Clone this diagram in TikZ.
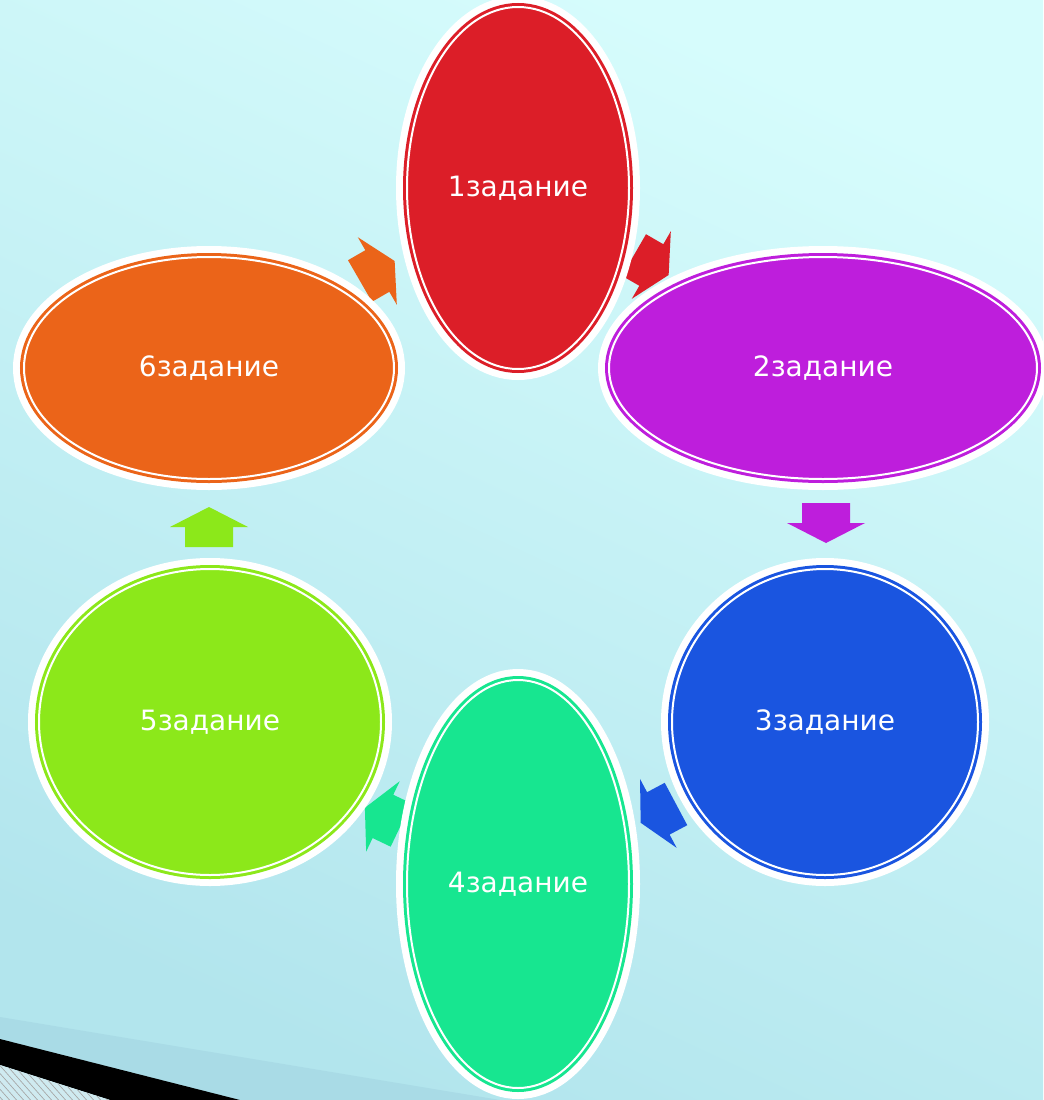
\documentclass[tikz,border=0pt]{standalone}
\usepackage{fontspec}
\setmainfont{DejaVu Sans}
\usetikzlibrary{shapes.geometric}

\definecolor{bgtop}{HTML}{D6FCFC}
\definecolor{bgbot}{HTML}{B2E5ED}
\definecolor{bandcol}{HTML}{A9DBE6}
\definecolor{hatchcol}{HTML}{CFEAF0}
\definecolor{redtask}{HTML}{DC1E28}
\definecolor{magtask}{HTML}{BE1EDC}
\definecolor{bluetask}{HTML}{1A55E0}
\definecolor{greentask}{HTML}{17E690}
\definecolor{limetask}{HTML}{8CE81A}
\definecolor{orangetask}{HTML}{EB6419}

\tikzset{
  task/.style={ellipse, inner sep=0pt, draw=#1, fill=#1, text=white,
    font=\fontsize{21}{25}\selectfont, line width=2.25pt,
    double=white, double distance=1.5pt,
    preaction={draw=white, line width=16.5pt}},
  blockarrow/.pic={
    \fill (0,-24) -- (20,-24) -- (20,-39) -- (40,0) -- (20,39)
      -- (20,24) -- (0,24) -- cycle;}
}

\begin{document}
\begin{tikzpicture}[x=0.75pt, y=0.75pt]
  \useasboundingbox (0,0) rectangle (1043,-1100);
  % background
  \shade[top color=bgtop, bottom color=bgbot, shading angle=-25]
    (0,0) rectangle (1043,-1100);
  \fill[bandcol] (0,-1017) -- (500,-1100) -- (240,-1100) -- (0,-1039) -- cycle;
  \fill[black] (0,-1039) -- (240,-1100) -- (110,-1100) -- (0,-1065) -- cycle;
  \begin{scope}
    \clip (0,-1065) -- (110,-1100) -- (0,-1100) -- cycle;
    \fill[hatchcol] (0,-1065) rectangle (110,-1100);
    \foreach \i in {0,7,...,140}
      \draw[gray!70, line width=0.5pt] (\i-40,-1060) -- (\i,-1105);
  \end{scope}

  % arrows between the tasks
  \pic[redtask, rotate=-30] at (634,-255) {blockarrow};
  \pic[magtask, rotate=-90] at (826,-503) {blockarrow};
  \pic[bluetask, rotate=208] at (676,-804) {blockarrow};
  \pic[greentask, rotate=154.5] at (401,-825) {blockarrow};
  \pic[limetask, rotate=90] at (209,-547) {blockarrow};
  \pic[orangetask, rotate=30] at (360,-281) {blockarrow};

  % tasks
  \node[task=orangetask, minimum width=370*0.75pt, minimum height=222*0.75pt]
    (t6) at (209,-368) {6задание};
  \node[task=limetask, minimum width=342*0.75pt, minimum height=306*0.75pt]
    (t5) at (210,-722) {5задание};
  \node[task=greentask, minimum width=222*0.75pt, minimum height=408*0.75pt]
    (t4) at (518,-884) {4задание};
  \node[task=bluetask, minimum width=306*0.75pt, minimum height=306*0.75pt]
    (t3) at (825,-722) {3задание};
  \node[task=magtask, minimum width=428*0.75pt, minimum height=222*0.75pt]
    (t2) at (823,-368) {2задание};
  \node[task=redtask, minimum width=222*0.75pt, minimum height=362*0.75pt]
    (t1) at (518,-188) {1задание};
\end{tikzpicture}
\end{document}
